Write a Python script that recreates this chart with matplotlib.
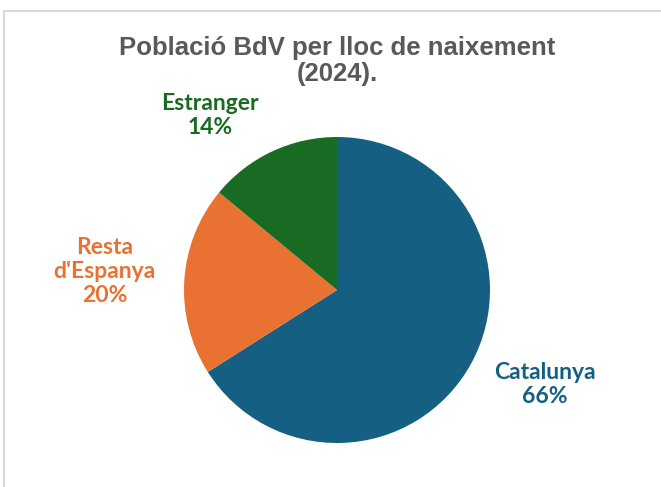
import matplotlib.pyplot as plt
from matplotlib.patches import Rectangle

categories = ['Catalunya', "Resta\nd'Espanya", 'Estranger']
shares = [66, 20, 14]
colors = ['#156082', '#E97132', '#196B24']
label_pos = [(1.36, -0.62), (-1.52, 0.12), (-0.83, 1.14)]

W, H = 661, 487
fig = plt.figure(figsize=(W / 100, H / 100), dpi=100)

# chart frame (right and bottom sides fall outside the picture)
fig.patches.append(Rectangle((4 / W, -0.02), 1, (H - 11) / H + 0.02,
                             transform=fig.transFigure, fill=False,
                             edgecolor='#d9d9d9', linewidth=1.5))

cx, cy, r = 337, H - 290, 153
ax = fig.add_axes([(cx - r) / W, (cy - r) / H, 2 * r / W, 2 * r / H])
ax.pie(shares, colors=colors, startangle=90, counterclock=False, radius=1,
       wedgeprops=dict(linewidth=0))
ax.set_xlim(-1, 1)
ax.set_ylim(-1, 1)
ax.set_aspect('equal')
ax.axis('off')

for name, val, col, (x, y) in zip(categories, shares, colors, label_pos):
    ax.text(x, y, f'{name}\n{val}%', color=col, ha='center', va='center',
            fontsize=16.5, fontweight='bold', family='Lato', linespacing=1.17,
            clip_on=False)

fig.text(cx / W, 1 - 61 / H, 'Població BdV per lloc de naixement\n(2024).',
         ha='center', va='center', fontsize=18.5, fontweight='bold',
         family='Liberation Sans', color='#595959', linespacing=1.13)

fig.savefig('out.png', dpi=100)
